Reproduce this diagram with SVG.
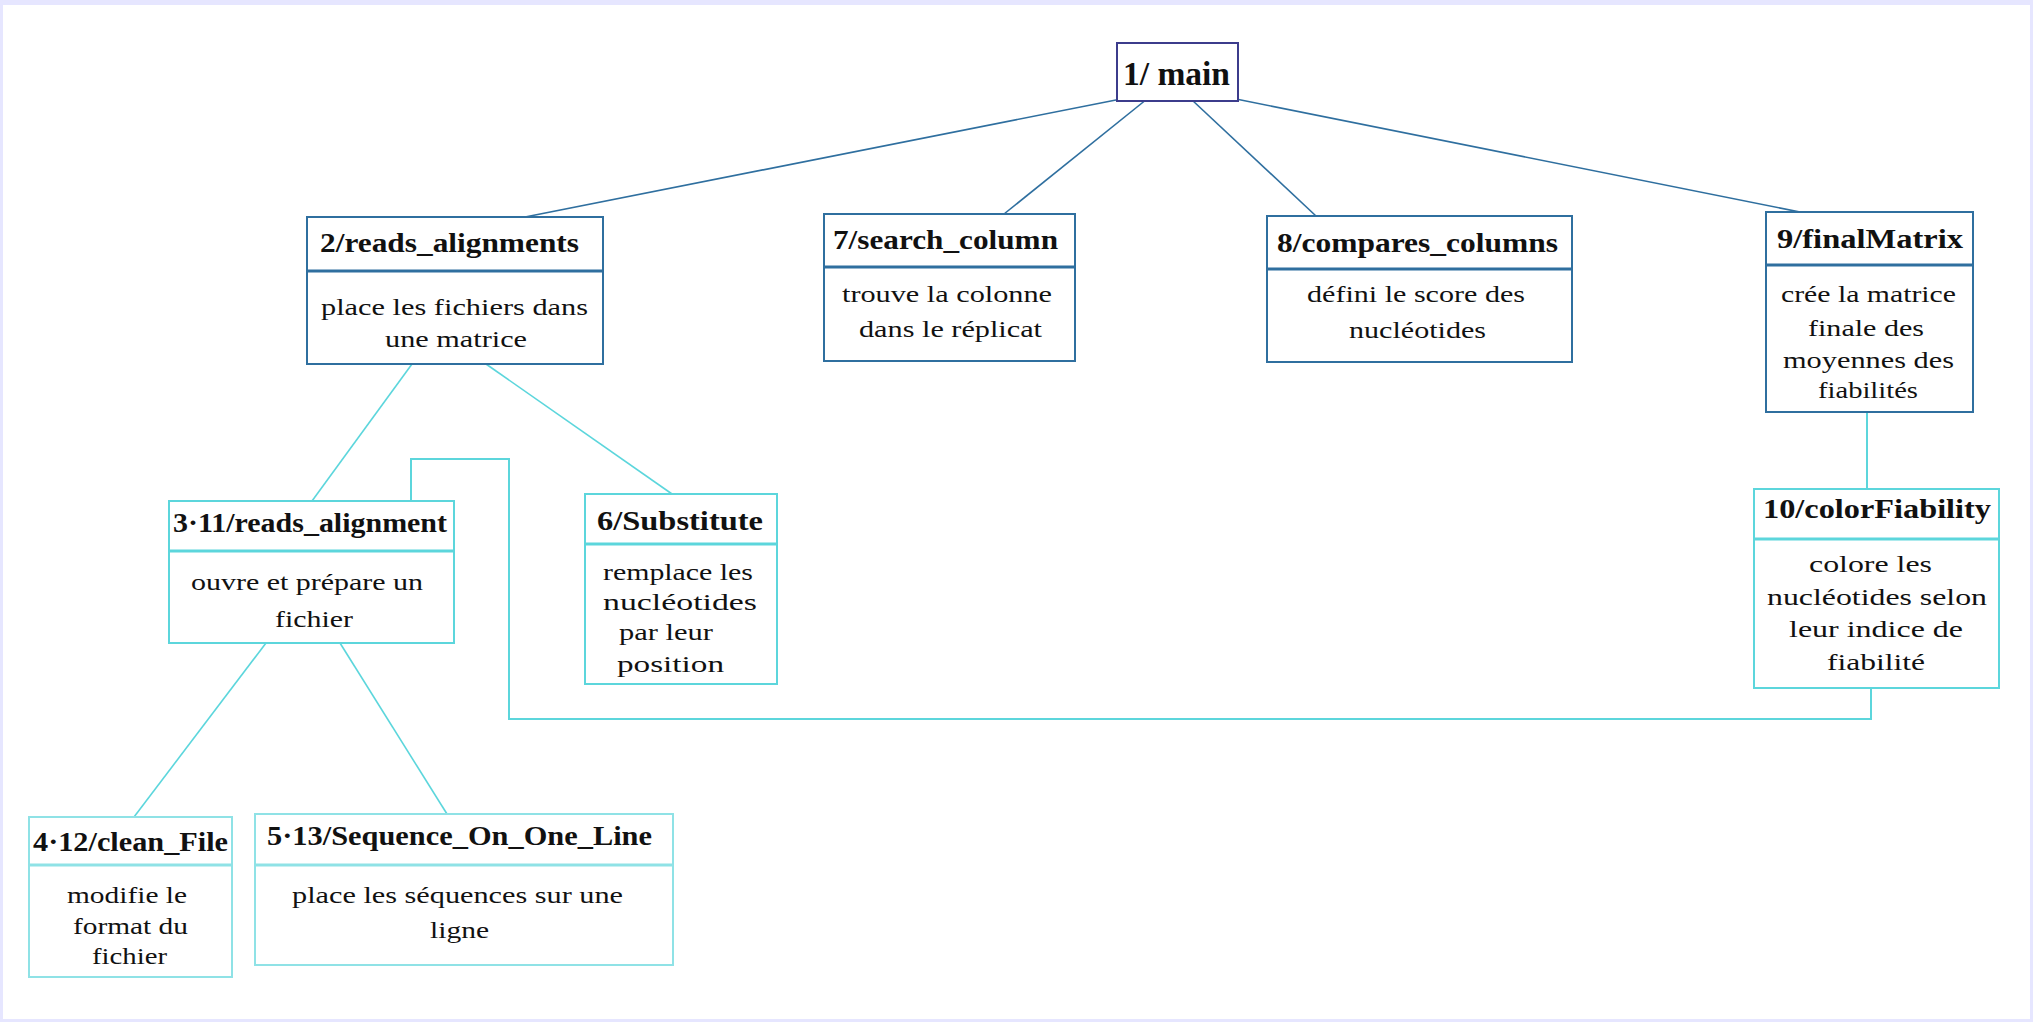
<svg xmlns="http://www.w3.org/2000/svg" width="2033" height="1022" viewBox="0 0 2033 1022">
<style>
.bg{fill:#e6e6ff}
.page{fill:#ffffff}
.box{fill:#ffffff;stroke-width:2}
.dk{stroke:#2f6f9f}
.cy{stroke:#5cd6dc}
.lc{stroke:#8fe2e6}
.nv{stroke:#3c3c8c}
.div{stroke-width:3}
.t{font-family:"Liberation Serif","Times New Roman",serif;font-weight:bold;font-size:28px;fill:#111}
.d{font-family:"Liberation Serif","Times New Roman",serif;font-size:24px;fill:#111}
.c{fill:none;stroke-width:1.6}
</style>
<rect class="bg" x="0" y="0" width="2033" height="1022"/>
<rect class="page" x="3" y="5" width="2027" height="1014"/>
<g id="connectors">
<line class="c dk" x1="1121" y1="99" x2="520" y2="218"/>
<line class="c dk" x1="1147" y1="99" x2="1004" y2="214"/>
<line class="c dk" x1="1192" y1="100" x2="1316" y2="216"/>
<line class="c dk" x1="1236" y1="99" x2="1805" y2="213"/>
<line class="c cy" x1="412" y1="364" x2="312" y2="501"/>
<line class="c cy" x1="486" y1="364" x2="672" y2="494"/>
<line class="c cy" style="stroke-width:2" x1="1867" y1="412" x2="1867" y2="489"/>
<line class="c cy" x1="266" y1="643" x2="134" y2="817"/>
<line class="c cy" x1="340" y1="643" x2="447" y2="814"/>
<polyline class="c cy" style="stroke-width:2" points="411,501 411,459 509,459 509,719 1871,719 1871,688"/>
</g>
<g id="n1">
<rect class="box nv" x="1117" y="43" width="121" height="58"/>
<text class="t" style="font-size:34px" x="1123" y="85" textLength="107" lengthAdjust="spacingAndGlyphs">1/ main</text>
</g>
<g id="n2">
<rect class="box dk" x="307" y="217" width="296" height="147"/>
<line class="dk div" x1="307" y1="271" x2="603" y2="271"/>
<text class="t" x="320" y="252" textLength="259" lengthAdjust="spacingAndGlyphs">2/reads_alignments</text>
<text class="d" x="321" y="315" textLength="267" lengthAdjust="spacingAndGlyphs">place les fichiers dans</text>
<text class="d" x="385" y="347" textLength="142" lengthAdjust="spacingAndGlyphs">une matrice</text>
</g>
<g id="n7">
<rect class="box dk" x="824" y="214" width="251" height="147"/>
<line class="dk div" x1="824" y1="267" x2="1075" y2="267"/>
<text class="t" x="833" y="249" textLength="225" lengthAdjust="spacingAndGlyphs">7/search_column</text>
<text class="d" x="842" y="302" textLength="210" lengthAdjust="spacingAndGlyphs">trouve la colonne</text>
<text class="d" x="859" y="337" textLength="183" lengthAdjust="spacingAndGlyphs">dans le réplicat</text>
</g>
<g id="n8">
<rect class="box dk" x="1267" y="216" width="305" height="146"/>
<line class="dk div" x1="1267" y1="269" x2="1572" y2="269"/>
<text class="t" x="1277" y="252" textLength="281" lengthAdjust="spacingAndGlyphs">8/compares_columns</text>
<text class="d" x="1307" y="302" textLength="218" lengthAdjust="spacingAndGlyphs">défini le score des</text>
<text class="d" x="1349" y="338" textLength="137" lengthAdjust="spacingAndGlyphs">nucléotides</text>
</g>
<g id="n9">
<rect class="box dk" x="1766" y="212" width="207" height="200"/>
<line class="dk div" x1="1766" y1="265" x2="1973" y2="265"/>
<text class="t" x="1777" y="248" textLength="186" lengthAdjust="spacingAndGlyphs">9/finalMatrix</text>
<text class="d" x="1781" y="302" textLength="175" lengthAdjust="spacingAndGlyphs">crée la matrice</text>
<text class="d" x="1808" y="336" textLength="116" lengthAdjust="spacingAndGlyphs">finale des</text>
<text class="d" x="1783" y="368" textLength="171" lengthAdjust="spacingAndGlyphs">moyennes des</text>
<text class="d" x="1818" y="398" textLength="100" lengthAdjust="spacingAndGlyphs">fiabilités</text>
</g>
<g id="n3">
<rect class="box cy" x="169" y="501" width="285" height="142"/>
<line class="cy div" x1="169" y1="551" x2="454" y2="551"/>
<text class="t" x="173" y="532" textLength="274" lengthAdjust="spacingAndGlyphs">3·11/reads_alignment</text>
<text class="d" x="191" y="590" textLength="232" lengthAdjust="spacingAndGlyphs">ouvre et prépare un</text>
<text class="d" x="275" y="627" textLength="78" lengthAdjust="spacingAndGlyphs">fichier</text>
</g>
<g id="n6">
<rect class="box cy" x="585" y="494" width="192" height="190"/>
<line class="cy div" x1="585" y1="544" x2="777" y2="544"/>
<text class="t" x="597" y="530" textLength="166" lengthAdjust="spacingAndGlyphs">6/Substitute</text>
<text class="d" x="603" y="580" textLength="150" lengthAdjust="spacingAndGlyphs">remplace les</text>
<text class="d" x="603" y="610" textLength="154" lengthAdjust="spacingAndGlyphs">nucléotides</text>
<text class="d" x="619" y="640" textLength="94" lengthAdjust="spacingAndGlyphs">par leur</text>
<text class="d" x="617" y="672" textLength="107" lengthAdjust="spacingAndGlyphs">position</text>
</g>
<g id="n10">
<rect class="box cy" x="1754" y="489" width="245" height="199"/>
<line class="cy div" x1="1754" y1="539" x2="1999" y2="539"/>
<text class="t" x="1763" y="518" textLength="228" lengthAdjust="spacingAndGlyphs">10/colorFiability</text>
<text class="d" x="1809" y="572" textLength="123" lengthAdjust="spacingAndGlyphs">colore les</text>
<text class="d" x="1767" y="605" textLength="220" lengthAdjust="spacingAndGlyphs">nucléotides selon</text>
<text class="d" x="1789" y="637" textLength="174" lengthAdjust="spacingAndGlyphs">leur indice de</text>
<text class="d" x="1827" y="670" textLength="98" lengthAdjust="spacingAndGlyphs">fiabilité</text>
</g>
<g id="n4">
<rect class="box lc" x="29" y="817" width="203" height="160"/>
<line class="lc div" x1="29" y1="865" x2="232" y2="865"/>
<text class="t" x="33" y="851" textLength="195" lengthAdjust="spacingAndGlyphs">4·12/clean_File</text>
<text class="d" x="67" y="903" textLength="120" lengthAdjust="spacingAndGlyphs">modifie le</text>
<text class="d" x="73" y="934" textLength="115" lengthAdjust="spacingAndGlyphs">format du</text>
<text class="d" x="92" y="964" textLength="75" lengthAdjust="spacingAndGlyphs">fichier</text>
</g>
<g id="n5">
<rect class="box lc" x="255" y="814" width="418" height="151"/>
<line class="lc div" x1="255" y1="865" x2="673" y2="865"/>
<text class="t" x="267" y="845" textLength="385" lengthAdjust="spacingAndGlyphs">5·13/Sequence_On_One_Line</text>
<text class="d" x="292" y="903" textLength="331" lengthAdjust="spacingAndGlyphs">place les séquences sur une</text>
<text class="d" x="430" y="938" textLength="59" lengthAdjust="spacingAndGlyphs">ligne</text>
</g>
</svg>
